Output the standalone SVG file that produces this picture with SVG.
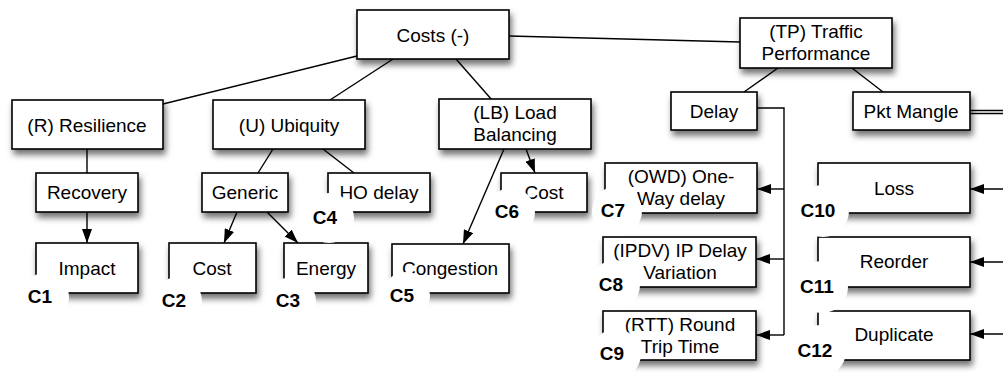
<svg xmlns="http://www.w3.org/2000/svg" width="1003" height="372" viewBox="0 0 1003 372">
<defs>
<style>
.box{fill:#fff;stroke:#000;stroke-width:1.6;filter:url(#sh)}
.t{font-family:"Liberation Sans",Arial,sans-serif;font-size:19px;text-anchor:middle;fill:#000}
.c{font-family:"Liberation Sans",Arial,sans-serif;font-size:19px;font-weight:bold;text-anchor:middle;fill:#000}
.ln{stroke:#000;stroke-width:1.4;fill:none}
.ar{stroke:#000;stroke-width:1.4;fill:none;marker-end:url(#ah)}
.bub{fill:#fff}
</style>
<filter id="sh" x="-20%" y="-20%" width="150%" height="160%">
<feDropShadow dx="2" dy="5" stdDeviation="3" flood-color="#000" flood-opacity="0.55"/>
</filter>
<marker id="ah" markerWidth="14" markerHeight="10" refX="14" refY="5" orient="auto" markerUnits="userSpaceOnUse">
<path d="M0,0 L14,5 L0,10 z" fill="#000"/>
</marker>
</defs>
<g id="connectors">
<line class="ln" x1="357" y1="56" x2="163" y2="104"/>
<line class="ln" x1="393" y1="59" x2="330" y2="100"/>
<line class="ln" x1="456" y1="59" x2="492" y2="100"/>
<line class="ln" x1="509" y1="36" x2="740" y2="42"/>
<line class="ln" x1="778" y1="68" x2="744" y2="92"/>
<line class="ln" x1="852" y1="68" x2="883" y2="92"/>
<line class="ln" x1="87" y1="149" x2="87" y2="173"/>
<line class="ln" x1="273" y1="149" x2="258" y2="173"/>
<line class="ln" x1="323" y1="149" x2="354" y2="173"/>
<line class="ar" x1="87" y1="212" x2="87" y2="243"/>
<line class="ar" x1="237" y1="212" x2="224" y2="243"/>
<line class="ar" x1="267" y1="212" x2="298" y2="243"/>
<line class="ar" x1="526" y1="149" x2="535" y2="173"/>
<line class="ar" x1="504" y1="149" x2="463" y2="244"/>
<polyline class="ln" points="757,108 784,108 784,335"/>
<line class="ar" x1="784" y1="189" x2="757" y2="189"/>
<line class="ar" x1="784" y1="259" x2="756" y2="259"/>
<line class="ar" x1="784" y1="335" x2="756" y2="335"/>
<line class="ln" x1="970" y1="110.5" x2="1003" y2="110.5"/>
<line class="ln" x1="970" y1="113.5" x2="1003" y2="113.5"/>
<line class="ar" x1="1003" y1="189" x2="970" y2="189"/>
<line class="ar" x1="1003" y1="262" x2="970" y2="262"/>
<line class="ar" x1="1003" y1="334" x2="970" y2="334"/>
</g>
<g id="costs"><rect class="box" x="357" y="10" width="152" height="49"/><text class="t" x="433" y="42">Costs (-)</text></g>
<g id="resilience"><rect class="box" x="12" y="100" width="151" height="49"/><text class="t" x="87" y="132">(R) Resilience</text></g>
<g id="ubiquity"><rect class="box" x="213" y="100" width="152" height="49"/><text class="t" x="289" y="132">(U) Ubiquity</text></g>
<g id="loadbalancing"><rect class="box" x="439" y="99" width="152" height="50"/><text class="t" x="515" y="119">(LB) Load</text><text class="t" x="515" y="141">Balancing</text></g>
<g id="traffic"><rect class="box" x="740" y="18" width="152" height="50"/><text class="t" x="816" y="38">(TP) Traffic</text><text class="t" x="816" y="60">Performance</text></g>
<g id="delay"><rect class="box" x="671" y="92" width="86" height="38"/><text class="t" x="714" y="118">Delay</text></g>
<g id="pktmangle"><rect class="box" x="853" y="92" width="117" height="38"/><text class="t" x="911" y="118">Pkt Mangle</text></g>
<g id="recovery"><rect class="box" x="36" y="173" width="102" height="39"/><text class="t" x="87" y="199">Recovery</text></g>
<g id="generic"><rect class="box" x="202" y="173" width="86" height="39"/><text class="t" x="245" y="199">Generic</text></g>
<g id="hodelay"><rect class="box" x="328" y="173" width="102" height="39"/><text class="t" x="379" y="199">HO delay</text></g>
<g id="impact"><rect class="box" x="36" y="243" width="102" height="50"/><text class="t" x="87" y="275">Impact</text></g>
<g id="cost2"><rect class="box" x="169" y="243" width="87" height="50"/><text class="t" x="212" y="275">Cost</text></g>
<g id="energy"><rect class="box" x="284" y="243" width="84" height="50"/><text class="t" x="326" y="275">Energy</text></g>
<g id="congestion"><rect class="box" x="392" y="244" width="117" height="49"/><text class="t" x="450" y="275">Congestion</text></g>
<g id="cost6"><rect class="box" x="501" y="173" width="86" height="39"/><text class="t" x="544" y="199">Cost</text></g>
<g id="owd"><rect class="box" x="605" y="163" width="152" height="50"/><text class="t" x="681" y="183">(OWD) One-</text><text class="t" x="681" y="205">Way delay</text></g>
<g id="ipdv"><rect class="box" x="603" y="237" width="153" height="50"/><text class="t" x="680" y="257">(IPDV) IP Delay</text><text class="t" x="680" y="279">Variation</text></g>
<g id="rtt"><rect class="box" x="603" y="311" width="153" height="49"/><text class="t" x="680" y="331">(RTT) Round</text><text class="t" x="680" y="353">Trip Time</text></g>
<g id="loss"><rect class="box" x="818" y="163" width="152" height="50"/><text class="t" x="894" y="195">Loss</text></g>
<g id="reorder"><rect class="box" x="818" y="237" width="152" height="50"/><text class="t" x="894" y="268">Reorder</text></g>
<g id="duplicate"><rect class="box" x="818" y="311" width="152" height="49"/><text class="t" x="894" y="341">Duplicate</text></g>
<g id="labels">
<g id="c1"><circle class="bub" cx="45" cy="297" r="24"/><text class="c" x="40" y="303">C1</text></g>
<g id="c2"><circle class="bub" cx="178" cy="301" r="24"/><text class="c" x="174" y="307">C2</text></g>
<g id="c3"><circle class="bub" cx="292" cy="301" r="24"/><text class="c" x="288" y="307">C3</text></g>
<g id="c4"><circle class="bub" cx="329" cy="218" r="25"/><text class="c" x="325" y="224">C4</text></g>
<g id="c5"><circle class="bub" cx="406" cy="296" r="24"/><text class="c" x="402" y="302">C5</text></g>
<g id="c6"><circle class="bub" cx="511" cy="212" r="24"/><text class="c" x="507" y="218">C6</text></g>
<g id="c7"><circle class="bub" cx="617" cy="211" r="25"/><text class="c" x="613" y="217">C7</text></g>
<g id="c8"><circle class="bub" cx="615" cy="285" r="25"/><text class="c" x="611" y="291">C8</text></g>
<g id="c9"><circle class="bub" cx="616" cy="354" r="25"/><text class="c" x="612" y="360">C9</text></g>
<g id="c10"><circle class="bub" cx="823" cy="211" r="26"/><text class="c" x="818" y="217">C10</text></g>
<g id="c11"><circle class="bub" cx="822" cy="287" r="26"/><text class="c" x="817" y="293">C11</text></g>
<g id="c12"><circle class="bub" cx="820" cy="351" r="26"/><text class="c" x="815" y="357">C12</text></g>
</g>
</svg>
